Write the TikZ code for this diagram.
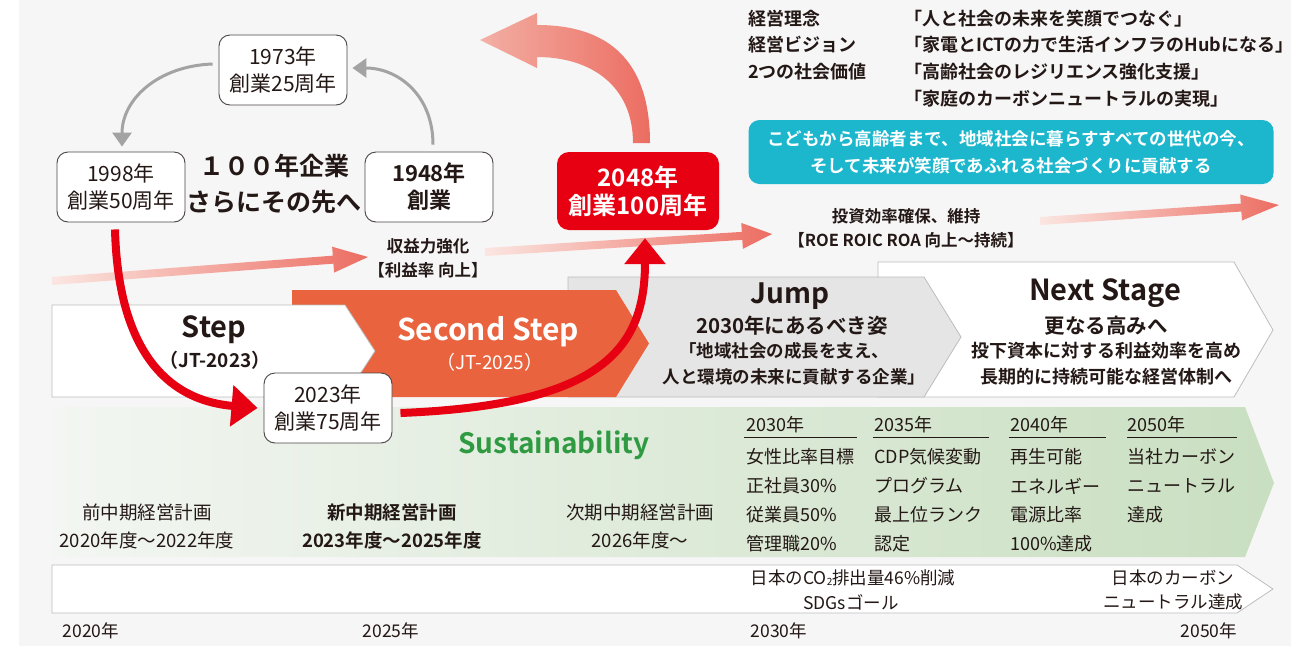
\documentclass[tikz,border=0pt]{standalone}
\usepackage{fontspec}
\setmainfont{Noto Sans CJK JP}[BoldFont={* Bold}]
\usetikzlibrary{arrows.meta,calc}
\definecolor{bg}{HTML}{F6F6F6}
\definecolor{txt}{HTML}{231815}
\definecolor{boxline}{HTML}{4A4544}
\definecolor{cyc}{HTML}{A3A3A3}
\definecolor{jred}{HTML}{E60012}
\definecolor{orng}{HTML}{E9633E}
\definecolor{jumpg}{HTML}{E5E5E5}
\definecolor{chevl}{HTML}{BDBDBD}
\definecolor{cyanb}{HTML}{1DB7CD}
\definecolor{sgreen}{HTML}{2F9A41}
\definecolor{gL}{HTML}{F3F6F2}
\definecolor{gR}{HTML}{C9DFC1}
\definecolor{pinkL}{HTML}{FBE6E1}
\definecolor{pinkM}{HTML}{F2A89D}
\definecolor{pinkR}{HTML}{EC6D62}
\pgfdeclarehorizontalshading{bigpink}{100bp}{color(0bp)=(pinkL); color(30bp)=(pinkM); color(75bp)=(pinkR); color(100bp)=(pinkR)}
\newcommand\fs[2]{\fontsize{#1}{#2}\selectfont}
\newcommand\pinkarrow[3]{%
  \coordinate (#1-h) at ($(#2)!#3pt!(#1)$);
  \shade[left color=pinkL,right color=pinkR]
    ($(#1)!4pt!90:(#2)$) -- ($(#1-h)!4pt!-90:(#1)$) -- ($(#1-h)!13pt!-90:(#1)$)
    -- (#2) -- ($(#1-h)!13pt!90:(#1)$) -- ($(#1-h)!4pt!90:(#1)$) -- ($(#1)!4pt!-90:(#2)$) -- cycle;
}
\begin{document}
\begin{tikzpicture}[x=1pt,y=-1pt,
  every node/.style={inner sep=0pt, text=txt},
  ybox/.style={draw=boxline, line width=0.9pt, fill=white, rounded corners=11pt,
    minimum width=128pt, minimum height=70pt, align=center, font=\fs{21}{27}},
  chev/.style={draw=chevl, line width=0.8pt},
  cyclearrow/.style={draw=cyc, line width=3pt, -{Triangle[length=14pt,width=19pt]}},
  redarrow/.style={draw=jred, line width=8pt, -{Triangle[length=26pt,width=40pt]}},
  lbl/.style={align=center, font=\fs{16.5}{24}\bfseries},
  trt/.style={anchor=west, font=\fs{18}{20}\bfseries},
  stitle/.style={font=\fs{29}{32}\bfseries},
  ssub/.style={font=\fs{20.5}{22}\bfseries},
  sline/.style={font=\fs{18}{20}\bfseries},
  colt/.style={anchor=west, font=\fs{18}{20}},
  plan/.style={font=\fs{18.5}{20}},
  small/.style={font=\fs{17.5}{18}},
]
\useasboundingbox (0,0) rectangle (1291,646);
\fill[white] (0,0) rectangle (1291,646);
\fill[bg] (19,0) rectangle (1291,646);

% ---- stage chevrons
\draw[chev, fill=white] (878,262) -- (1234,262) -- (1273,330) -- (1234,397) -- (878,397) -- cycle;
\draw[chev, fill=jumpg] (568,277) -- (924,277) -- (961,337) -- (924,397) -- (568,397) -- cycle;
\fill[orng] (292,290) -- (616,290) -- (649,343.5) -- (616,397) -- (292,397) -- cycle;
\draw[chev, fill=white] (52,305) -- (345,305) -- (375,351) -- (345,397) -- (52,397) -- cycle;

\node[stitle] (stepT) at (214,330) {Step};
\node[font=\fs{19}{20}\bfseries] (stepS) at (215,360) {（JT-2023）};
\node[stitle, text=white, font=\fs{30}{32}\bfseries] (sstepT) at (488,332) {Second Step};
\node[text=white, font=\fs{19}{20}] (sstepS) at (490,362) {（JT-2025）};
\node[stitle, font=\fs{28}{32}\bfseries] (jumpT) at (790,296) {Jump};
\node[ssub] (jumpS) at (792,326) {2030年にあるべき姿};
\node[sline, font=\fs{17.5}{20}\bfseries] (jumpL1) at (784,351) {「地域社会の成長を支え、};
\node[sline, font=\fs{17.5}{20}\bfseries] (jumpL2) at (794,377) {人と環境の未来に貢献する企業」};
\node[stitle] (nextT) at (1105,293) {Next Stage};
\node[ssub] (nextS) at (1106,326) {更なる高みへ};
\node[sline] (nextL1) at (1106,351) {投下資本に対する利益効率を高め};
\node[sline] (nextL2) at (1106,377) {長期的に持続可能な経営体制へ};

% ---- sustainability band
\shade[left color=gL, right color=gR] (52,407) -- (1245,407) -- (1274,483) -- (1245,557) -- (52,557) -- cycle;
\node[text=sgreen, font=\fs{28}{32}\bfseries] (sust) at (554,445) {Sustainability};
\node[plan] (p1a) at (147,512) {前中期経営計画};
\node[plan] (p1b) at (147,540) {2020年度～2022年度};
\node[plan, font=\fs{18.5}{20}\bfseries] (p2a) at (392,512) {新中期経営計画};
\node[plan, font=\fs{18.5}{20}\bfseries] (p2b) at (392,540) {2023年度～2025年度};
\node[plan] (p3a) at (640,512) {次期中期経営計画};
\node[plan] (p3b) at (640,540) {2026年度～};

\node[colt] (y30) at (746,425) {2030年};
\node[colt] (y35) at (874,425) {2035年};
\node[colt] (y40) at (1010,425) {2040年};
\node[colt] (y50) at (1127,425) {2050年};
\draw[txt, line width=0.8pt] (744,437) -- (857,437);
\draw[txt, line width=0.8pt] (873,437) -- (989,437);
\draw[txt, line width=0.8pt] (1009,437) -- (1106,437);
\draw[txt, line width=0.8pt] (1127,437) -- (1237,437);
\foreach \t [count=\i] in {女性比率目標,正社員30\%,従業員50\%,管理職20\%}
  \node[colt] (a\i) at (746,{457+29*(\i-1)}) {\t};
\foreach \t [count=\i] in {CDP気候変動,プログラム,最上位ランク,認定}
  \node[colt] (b\i) at (874,{457+29*(\i-1)}) {\t};
\foreach \t [count=\i] in {再生可能,エネルギー,電源比率,100\%達成}
  \node[colt] (c\i) at (1010,{457+29*(\i-1)}) {\t};
\foreach \t [count=\i] in {当社カーボン,ニュートラル,達成}
  \node[colt] (d\i) at (1127,{457+29*(\i-1)}) {\t};

% ---- bottom timeline
\draw[chev, fill=white] (52,565) -- (1237,565) -- (1273,589) -- (1237,613) -- (52,613) -- cycle;
\node[small] (co2) at (853,578) {日本のCO{\fs{10}{10}\raisebox{-1pt}{2}}排出量46\%削減};
\node[small] (sdg) at (851,602) {SDGsゴール};
\node[small] (jcn1) at (1173,578) {日本のカーボン};
\node[small] (jcn2) at (1173,602) {ニュートラル達成};
\node[small] (t2020) at (91,631) {2020年};
\node[small] (t2025) at (391,631) {2025年};
\node[small] (t2030) at (779,631) {2030年};
\node[small] (t2050) at (1209,631) {2050年};

% ---- pink growth arrows
\node[lbl] (gain) at (428,258) {収益力強化\\【利益率 向上】};
\node[lbl] (invest) at (906,228) {投資効率確保、維持\\【ROE ROIC ROA 向上～持続】};
\coordinate (pa0) at (52,281);
\coordinate (pa1) at (368,257);
\coordinate (pb0) at (485,252);
\coordinate (pb1) at (772,234);
\coordinate (pc0) at (1040,221);
\coordinate (pc1) at (1279,205);
\pinkarrow{pa0}{pa1}{35}
\pinkarrow{pb0}{pb1}{30}
\pinkarrow{pc0}{pc1}{38}

% ---- top right texts
\node[trt] (k1) at (748,19) {経営理念};
\node[trt] (k2) at (748,45) {経営ビジョン};
\node[trt] (k3) at (748,72) {2つの社会価値};
\node[trt] (q1) at (904,19) {「人と社会の未来を笑顔でつなぐ」};
\node[trt] (q2) at (904,45) {「家電とICTの力で生活インフラのHubになる」};
\node[trt] (q3) at (904,72) {「高齢社会のレジリエンス強化支援」};
\node[trt] (q4) at (904,99) {「家庭のカーボンニュートラルの実現」};
\node[fill=cyanb, rounded corners=11pt, minimum width=525pt, minimum height=64pt,
  align=center, text=white, font=\fs{17.5}{27}\bfseries] (mission) at (1011,152)
  {こどもから高齢者まで、地域社会に暮らすすべての世代の今、\\そして未来が笑顔であふれる社会づくりに貢献する};

% ---- big pink curved arrow
\shade[shading=bigpink]
  (650,143) .. controls (650,62) and (610,25) .. (537,25) -- (537,13) -- (480,40)
  -- (537,68) -- (537,57) .. controls (590,57) and (633,85) .. (633,143) -- cycle;

% ---- cycle boxes
\node[ybox] (b1973) at (283,70) {1973年\\創業25周年};
\node[ybox] (b1998) at (121,187) {1998年\\創業50周年};
\node[ybox, font=\fs{22}{27}\bfseries] (b1948) at (429,187) {1948年\\創業};
\node[align=center, font=\fs{25}{36}\bfseries] (centre) at (274,184) {１００年企業\\さらにその先へ};
\draw[cyclearrow] ($(b1948.north)+(4,-7)$) .. controls +(0,-50) and +(45,0) .. ($(b1973.east)+(5,-2)$);
\draw[cyclearrow] ($(b1973.west)+(-6,-6)$) .. controls +(-55,2) and +(0,-47) .. ($(b1998.north)+(1,-5)$);

\node[ybox, minimum height=70pt] (b2023) at (328,408) {2023年\\創業75周年};
\node[fill=jred, rounded corners=12pt, minimum width=162pt, minimum height=78pt,
  align=center, text=white, font=\fs{24}{28}\bfseries] (b2048) at (638,191) {2048年\\創業100周年};

% ---- red arrows
\draw[redarrow] ($(b1998.south)+(-6,7)$) .. controls +(3,115) and +(-95,-8) .. ($(b2023.west)+(-6,0)$);
\draw[redarrow] ($(b2023.east)+(8,5)$) .. controls +(200,-8) and +(0,112) .. ($(b2048.south)+(7,8)$);
\end{tikzpicture}
\end{document}
